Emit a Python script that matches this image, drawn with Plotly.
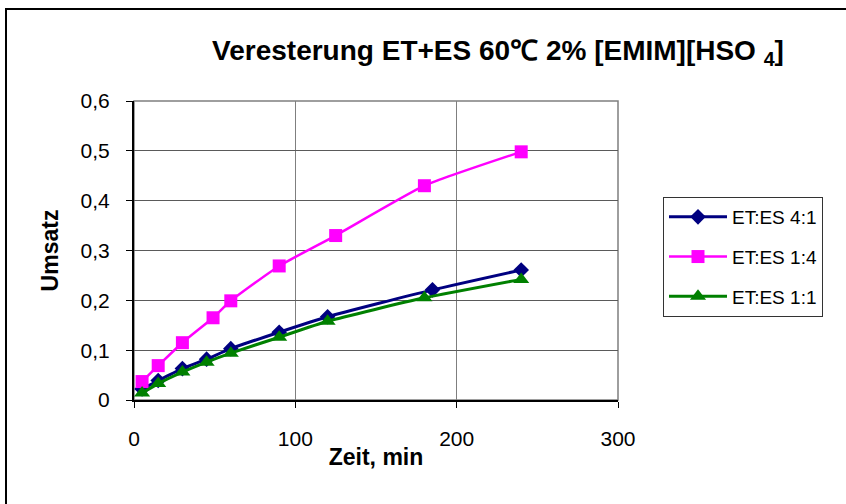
import plotly.graph_objects as go

# Data
x_41 = [5, 15, 30, 45, 60, 90, 120, 185, 240]
y_41 = [0.022, 0.039, 0.063, 0.082, 0.103, 0.136, 0.167, 0.221, 0.261]

x_14 = [5, 15, 30, 49, 60, 90, 125, 180, 240]
y_14 = [0.037, 0.069, 0.115, 0.165, 0.199, 0.269, 0.330, 0.430, 0.498]

x_11 = [5, 15, 30, 45, 60, 90, 120, 180, 240]
y_11 = [0.014, 0.033, 0.056, 0.076, 0.094, 0.126, 0.158, 0.205, 0.242]

names = ["ET:ES 4:1", "ET:ES 1:4", "ET:ES 1:1"]
title_text = "Veresterung ET+ES 60\u2103 2% [EMIM][HSO <sub>4</sub>]"
x_ticks = [0, 100, 200, 300]
y_ticks = [0, 0.1, 0.2, 0.3, 0.4, 0.5, 0.6]
y_ticklabels = ["0", "0,1", "0,2", "0,3", "0,4", "0,5", "0,6"]

FONT = "Arial, Liberation Sans, sans-serif"

fig = go.Figure()
fig.add_trace(go.Scatter(x=x_41, y=y_41, name=names[0], mode="lines+markers",
                         line=dict(color="#000080", width=3, shape="spline", smoothing=0.5),
                         marker=dict(symbol="diamond", size=12, color="#000080"),
                         legendgroup="a"))
fig.add_trace(go.Scatter(x=x_14, y=y_14, name=names[1], mode="lines+markers",
                         line=dict(color="#FF00FF", width=2.5, shape="spline", smoothing=0.5),
                         marker=dict(symbol="square", size=13, color="#FF00FF"),
                         legendgroup="b"))
fig.add_trace(go.Scatter(x=x_11, y=y_11, name=names[2], mode="lines+markers",
                         line=dict(color="#008000", width=3, shape="spline", smoothing=0.5),
                         marker=dict(symbol="triangle-up", size=14, color="#008000"),
                         legendgroup="c"))

L, R, T, B = 134, 618, 101, 400
W, H = 846, 504
pw, ph = R - L, B - T

fig.update_layout(
    width=W, height=H,
    margin=dict(l=L, r=W - R, t=T, b=H - B),
    paper_bgcolor="white", plot_bgcolor="white",
    font=dict(family=FONT, color="black"),
    title=dict(text="<b>" + title_text + "</b>", x=498 / W, xanchor="center",
               y=1 - 50 / H, yanchor="middle", yref="container",
               font=dict(size=28, family=FONT)),
    xaxis=dict(range=[0, 300], tickvals=x_ticks, ticktext=[str(v) for v in x_ticks],
               showgrid=True, gridcolor="#7f7f7f", gridwidth=1,
               showline=True, linecolor="black", linewidth=2, mirror=False,
               ticks="outside", ticklen=6, tickcolor="black",
               tickfont=dict(size=21, family=FONT), ticklabelstandoff=13,
               zeroline=False,
               title=dict(text="<b>Zeit, min</b>", font=dict(size=23, family=FONT), standoff=0)),
    yaxis=dict(range=[0, 0.6], tickvals=y_ticks, ticktext=y_ticklabels,
               showgrid=True, gridcolor="#5a5a5a", gridwidth=1,
               showline=True, linecolor="black", linewidth=2,
               ticks="outside", ticklen=6, tickcolor="black",
               tickfont=dict(size=21, family=FONT), ticklabelstandoff=12,
               zeroline=False,
               title=dict(text="<b>Umsatz</b>", font=dict(size=23, family=FONT), standoff=16)),
    legend=dict(x=(663 - L) / pw, y=(B - 197) / ph, xanchor="left", yanchor="top",
                bordercolor="#333333", borderwidth=1, bgcolor="white",
                font=dict(size=19, family=FONT), tracegroupgap=12,
                itemwidth=58),
    showlegend=True,
)

# Plot-area border (gray)
fig.add_shape(type="rect", xref="paper", yref="paper", x0=0, x1=1, y0=0, y1=1,
              line=dict(color="#7f7f7f", width=1.5), layer="below")
# Outer chart border
fig.add_shape(type="rect", xref="paper", yref="paper",
              x0=(6 - L) / pw, x1=(W + 10 - L) / pw,
              y0=(B - (H + 10)) / ph, y1=(B - 9) / ph,
              line=dict(color="black", width=2))

fig.write_html("out.html")
